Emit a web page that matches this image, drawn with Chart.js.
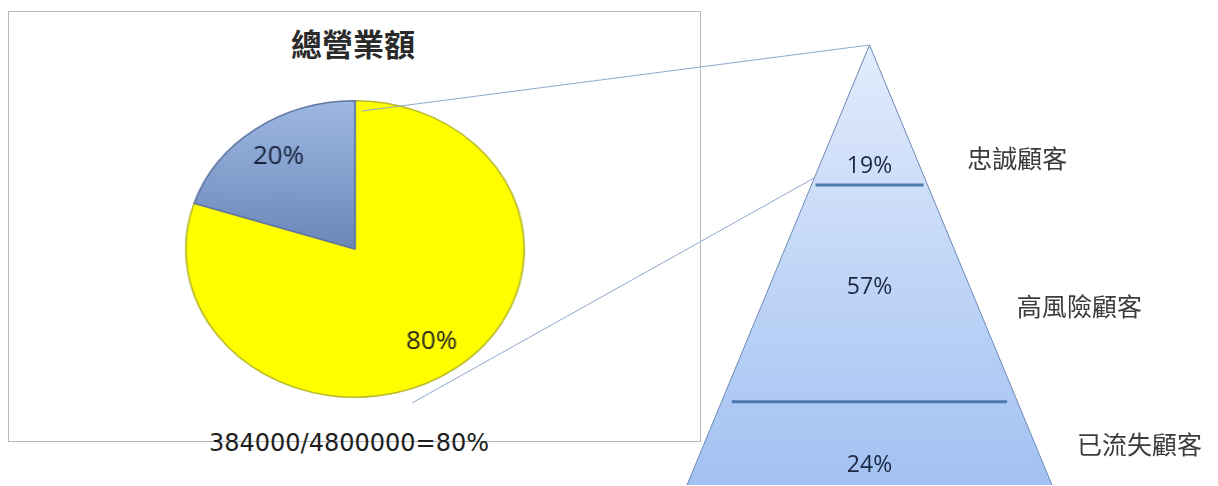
<!DOCTYPE html>
<html>
<head>
<meta charset="utf-8">
<script src="https://cdn.jsdelivr.net/npm/chart.js@4.4.1/dist/chart.umd.min.js"></script>
<style>
  html, body { margin: 0; padding: 0; background: #fff; }
  #stage { position: relative; width: 1218px; height: 486px; overflow: hidden; }
  #frame { position: absolute; left: 8px; top: 11px; width: 691px; height: 429px; border: 1px solid #b8b8b8; }
  #pieChart { position: absolute; left: 205px; top: 99px; transform: scaleX(1.141); transform-origin: 50% 50%; }
  #pyramidChart { position: absolute; left: 0; top: 0; pointer-events: none; }
  .caption { position: absolute; white-space: nowrap; transform: translate(-50%, -50%); }
  #title { left: 353px; top: 42px; font: bold 31px "Noto Sans CJK TC"; color: #2a2a2a; }
  #formula { left: 349px; top: 443px; font: 24px "DejaVu Sans"; color: #1e1e1e; }
</style>
</head>
<body>
<div id="stage">
  <div id="frame"></div>
  <div class="caption" id="title">總營業額</div>
  <canvas id="pieChart" width="300" height="300"></canvas>
  <div class="caption" id="formula">384000/4800000=80%</div>
  <canvas id="pyramidChart" width="1218" height="486"></canvas>
</div>
<script>
// pie: share of total revenue
const pieShares = [80, 20];
const pieLabels = pieShares.map((v) => v + "%");

// pyramid: customer groups
const pyramidShares = [19, 57, 24];
const pyramidGroups = ["忠誠顧客", "高風險顧客", "已流失顧客"];

// the pie is drawn as a circle and stretched sideways like the original
const PIE_STRETCH = 1.141;

// pyramid layout in scale units (y: 0 = base, 1 = apex; x: -1..1 = base width)
const PYRAMID = {
  splits: [0.682, 0.189],
  valueY: [0.723, 0.45, 0.045],
  nameX: [0.81, 1.15, 1.48],
  nameY: [0.743, 0.405, 0.091],
};

// labels inside the pie slices, counter-scaled so the text is not stretched
const pieText = {
  id: "pieText",
  afterDatasetsDraw(chart) {
    const ctx = chart.ctx;
    const meta = chart.getDatasetMeta(0);
    meta.data.forEach((arc, i) => {
      const { x, y, startAngle, endAngle, outerRadius } = arc.getProps(
        ["x", "y", "startAngle", "endAngle", "outerRadius"], true);
      const mid = (startAngle + endAngle) / 2;
      const r = outerRadius * 0.77;
      ctx.save();
      ctx.translate(x + Math.cos(mid) * r, y + Math.sin(mid) * r);
      ctx.scale(1 / PIE_STRETCH, 1);
      ctx.font = '26px "Open Sans"';
      ctx.fillStyle = i === 0 ? "#1e1e1e" : "#18223a";
      ctx.textAlign = "center";
      ctx.textBaseline = "middle";
      ctx.fillText(pieLabels[i], 0, 0);
      ctx.restore();
    });
  },
};

new Chart(document.getElementById("pieChart"), {
  type: "pie",
  data: {
    labels: pieLabels,
    datasets: [
      {
        data: pieShares,
        backgroundColor: (c) => {
          if (c.dataIndex === 0) return "#ffff00";
          const area = c.chart.chartArea;
          if (!area) return "#86a0cc";
          const g = c.chart.ctx.createLinearGradient(0, area.top, 0, (area.top + area.bottom) / 2);
          g.addColorStop(0, "#9db8e2");
          g.addColorStop(1, "#6b87b8");
          return g;
        },
        borderColor: ["#b8b82a", "#5e76a2"],
        borderWidth: 1.5,
      },
    ],
  },
  options: {
    responsive: false,
    animation: false,
    layout: { padding: 1 },
    plugins: { legend: { display: false }, tooltip: { enabled: false } },
  },
  plugins: [pieText],
});

// connector lines, tier values and group names
const pyramidText = {
  id: "pyramidText",
  afterDraw(chart) {
    const { ctx, scales: { x, y } } = chart;
    ctx.save();
    ctx.strokeStyle = "#8fa8cc";
    ctx.lineWidth = 1;
    ctx.beginPath();
    ctx.moveTo(362, 111);
    ctx.lineTo(x.getPixelForValue(0), y.getPixelForValue(1));
    const lvl = PYRAMID.splits[0] + 0.016;
    ctx.moveTo(412, 403);
    ctx.lineTo(x.getPixelForValue(-(1 - lvl)), y.getPixelForValue(lvl));
    ctx.stroke();

    ctx.textAlign = "center";
    ctx.textBaseline = "middle";
    pyramidShares.forEach((v, i) => {
      ctx.font = '23px "Open Sans"';
      ctx.fillStyle = "#1c2742";
      ctx.fillText(v + "%", x.getPixelForValue(0), y.getPixelForValue(PYRAMID.valueY[i]));
      ctx.font = '25px "Noto Sans CJK TC"';
      ctx.fillStyle = "#3c3c3c";
      ctx.fillText(pyramidGroups[i], x.getPixelForValue(PYRAMID.nameX[i]), y.getPixelForValue(PYRAMID.nameY[i]));
    });
    ctx.restore();
  },
};

const dividers = PYRAMID.splits.map((s) => ({
  data: [
    { x: -0.93 * (1 - s), y: s },
    { x: 0.93 * (1 - s), y: s },
  ],
  borderColor: "#4d79b0",
  borderWidth: 3,
  pointRadius: 0,
  fill: false,
  order: 1,
}));

new Chart(document.getElementById("pyramidChart"), {
  type: "line",
  data: {
    datasets: [
      {
        data: [
          { x: -1, y: 0 },
          { x: 0, y: 1 },
          { x: 1, y: 0 },
        ],
        fill: "origin",
        backgroundColor: (c) => {
          const area = c.chart.chartArea;
          if (!area) return "#c3d8f8";
          const g = c.chart.ctx.createLinearGradient(0, area.top, 0, area.bottom);
          g.addColorStop(0, "#e2ecfc");
          g.addColorStop(1, "#a2c1f2");
          return g;
        },
        borderColor: "#6d89b6",
        borderWidth: 1,
        pointRadius: 0,
        tension: 0,
        clip: false,
        order: 2,
      },
      ...dividers,
    ],
  },
  options: {
    responsive: false,
    animation: false,
    layout: { padding: { left: 687, right: 166, top: 45, bottom: 1 } },
    scales: {
      x: { type: "linear", min: -1, max: 1, display: false },
      y: { min: 0, max: 1, display: false },
    },
    plugins: { legend: { display: false }, tooltip: { enabled: false } },
  },
  plugins: [pyramidText],
});
</script>
</body>
</html>
